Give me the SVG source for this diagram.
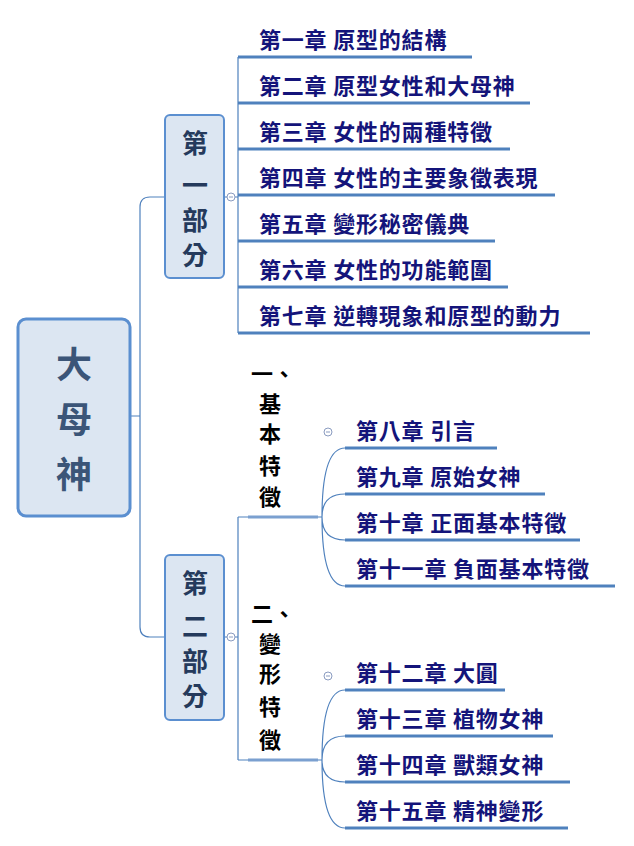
<svg xmlns="http://www.w3.org/2000/svg" width="634" height="846" viewBox="0 0 634 846">
<style>
.c{fill:none;stroke:#4f81bd;stroke-width:1.2}
.u{fill:none;stroke:#4f81bd;stroke-width:3}
.ch{font-family:"Noto Sans CJK TC","Noto Sans CJK SC",sans-serif;font-weight:bold;font-size:22px;letter-spacing:0.8px;fill:#14147a}
.pt{font-family:"Noto Sans CJK TC",sans-serif;font-weight:bold;font-size:26px;fill:#253a5c;text-anchor:middle}
.st{font-family:"Noto Sans CJK TC",sans-serif;font-weight:bold;font-size:22px;fill:#000;text-anchor:middle}
.k{fill:#fff;stroke:#8a9bc0;stroke-width:1}
</style>
<rect width="634" height="846" fill="#fff"/>
<g id="connectors">
<path class="c" d="M130 416H140M150 197H165M150 637H165M150 197Q140 197 140 207V627Q140 637 150 637"/>
<path class="c" d="M224 197H238M224 637H238M238 57V333M238 517V760"/>
<path class="u" d="M238 57H472M238 103H530M238 149H510M238 195H555M238 241H495M238 287H508M238 333H590"/>
<path class="c" d="M238 517H248M238 760H248"/>
<path class="u" style="stroke:#7ba0d0" d="M248 517H318M248 760H318"/>
<path class="c" d="M318 517H322M322 517Q322 448 345 448M322 517Q322 494 345 494M322 517Q322 540 345 540M322 517Q322 586 345 586"/>
<path class="c" d="M318 760H322M322 760Q322 690 345 690M322 760Q322 736 345 736M322 760Q322 782 345 782M322 760Q322 828 345 828"/>
<path class="u" d="M345 448H497M345 494H545M345 540H580M345 586H615M345 690H505M345 736H553M345 782H570M345 828H568"/>
<circle class="k" cx="231" cy="197" r="4"/><circle class="k" cx="231" cy="637" r="4"/>
<circle class="k" cx="328" cy="432" r="4"/><circle class="k" cx="328" cy="676" r="4"/>
<path d="M229 197H233M229 637H233M326 432H330M326 676H330" stroke="#8a9bc0" stroke-width="1"/>
</g>
<g id="root"><rect x="18" y="319" width="112" height="197" rx="8" fill="#dce6f2" stroke="#5b8fd0" stroke-width="3"/>
<text class="pt" style="font-size:36px;fill:#3b5578"><tspan x="74" y="378">大</tspan><tspan x="74" y="433">母</tspan><tspan x="74" y="488">神</tspan></text></g>
<g id="part1"><rect x="165" y="115" width="59" height="163" rx="5" fill="#dce6f2" stroke="#5b8fd0" stroke-width="2"/>
<text class="pt"><tspan x="195" y="153">第</tspan><tspan x="195" y="195">一</tspan><tspan x="195" y="230">部</tspan><tspan x="195" y="265">分</tspan></text></g>
<g id="part2"><rect x="165" y="555" width="59" height="165" rx="5" fill="#dce6f2" stroke="#5b8fd0" stroke-width="2"/>
<text class="pt"><tspan x="195" y="593">第</tspan><tspan x="195" y="636">二</tspan><tspan x="195" y="671">部</tspan><tspan x="195" y="706">分</tspan></text></g>
<g id="ch1-7">
<text class="ch" x="259" y="48">第一章 原型的結構</text>
<text class="ch" x="259" y="94">第二章 原型女性和大母神</text>
<text class="ch" x="259" y="140">第三章 女性的兩種特徵</text>
<text class="ch" x="259" y="186">第四章 女性的主要象徵表現</text>
<text class="ch" x="259" y="232">第五章 變形秘密儀典</text>
<text class="ch" x="259" y="278">第六章 女性的功能範圍</text>
<text class="ch" x="259" y="324">第七章 逆轉現象和原型的動力</text>
</g>
<g id="sub1"><text class="st"><tspan x="273" y="382">一、</tspan><tspan x="270" y="412">基</tspan><tspan x="270" y="442">本</tspan><tspan x="270" y="474">特</tspan><tspan x="270" y="505">徵</tspan></text></g>
<g id="sub2"><text class="st"><tspan x="273" y="622">二、</tspan><tspan x="270" y="652">變</tspan><tspan x="270" y="682">形</tspan><tspan x="270" y="715">特</tspan><tspan x="270" y="748">徵</tspan></text></g>
<g id="ch8-15">
<text class="ch" x="356" y="439">第八章 引言</text>
<text class="ch" x="356" y="485">第九章 原始女神</text>
<text class="ch" x="356" y="531">第十章 正面基本特徵</text>
<text class="ch" x="356" y="577">第十一章 負面基本特徵</text>
<text class="ch" x="356" y="681">第十二章 大圓</text>
<text class="ch" x="356" y="727">第十三章 植物女神</text>
<text class="ch" x="356" y="773">第十四章 獸類女神</text>
<text class="ch" x="356" y="819">第十五章 精神變形</text>
</g>
</svg>
